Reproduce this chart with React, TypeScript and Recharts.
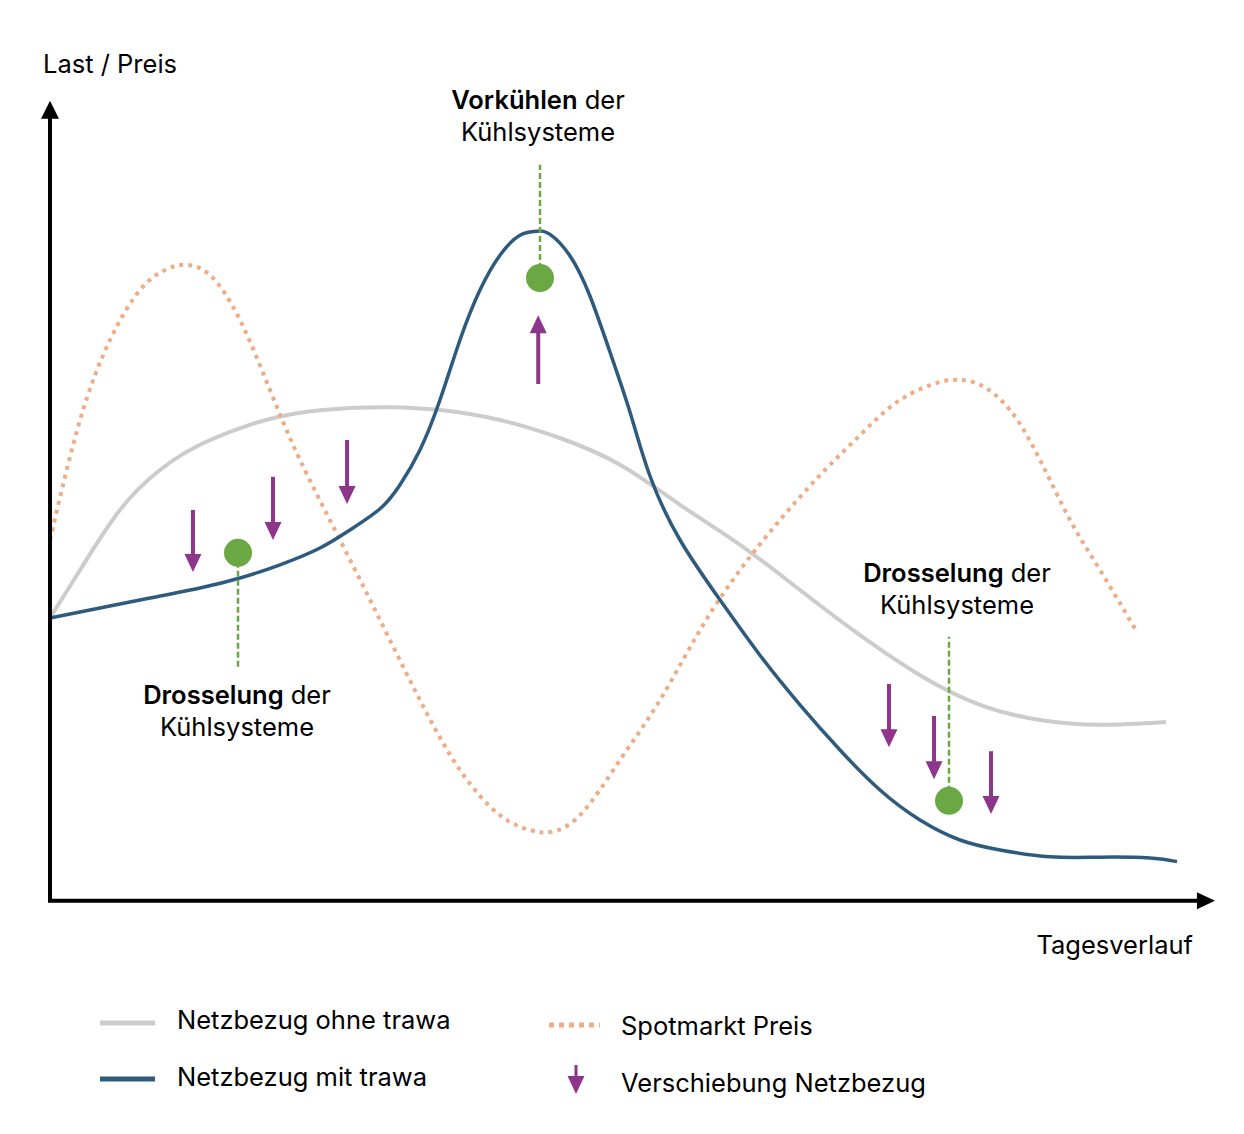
import React from "react";
import { LineChart, Line, XAxis, YAxis, ReferenceLine, ReferenceDot } from "recharts";

// x: Tagesverlauf (0-100), y: Last / Preis (0-100)
const ohneTrawa = [
  { t: 0.17, v: 35.25 }, { t: 2.74, v: 41.25 }, { t: 6.15, v: 48.75 }, { t: 9.57, v: 53.75 },
  { t: 12.99, v: 56.9 }, { t: 17.26, v: 59.4 }, { t: 21.54, v: 60.9 }, { t: 25.81, v: 61.5 },
  { t: 29.23, v: 61.6 }, { t: 33.5, v: 61.25 }, { t: 38.63, v: 60 }, { t: 43.76, v: 57.75 },
  { t: 48.89, v: 54.4 }, { t: 54.02, v: 49.4 }, { t: 59.15, v: 44.4 }, { t: 64.27, v: 38.75 },
  { t: 69.4, v: 33.1 }, { t: 74.53, v: 28.1 }, { t: 79.66, v: 24.4 }, { t: 84.79, v: 22.5 },
  { t: 89.91, v: 21.9 }, { t: 95.56, v: 22.25 },
];

const mitTrawa = [
  { t: 0.17, v: 35.25 }, { t: 4.44, v: 36.5 }, { t: 8.72, v: 37.75 }, { t: 12.99, v: 39 },
  { t: 16.41, v: 40.25 }, { t: 19.83, v: 41.9 }, { t: 23.25, v: 44 }, { t: 25.81, v: 46.25 },
  { t: 28.38, v: 48.9 }, { t: 30.09, v: 51.9 }, { t: 31.79, v: 56.25 }, { t: 33.5, v: 62.5 },
  { t: 35.21, v: 70 }, { t: 36.92, v: 76.25 }, { t: 38.63, v: 80.6 }, { t: 40.34, v: 83.1 },
  { t: 41.8, v: 83.6 }, { t: 42.91, v: 83.2 }, { t: 44.62, v: 80.5 }, { t: 46.32, v: 75.5 },
  { t: 48.03, v: 68.5 }, { t: 49.74, v: 61 }, { t: 51.45, v: 53 }, { t: 54.02, v: 45 },
  { t: 57.44, v: 37.5 }, { t: 60.85, v: 30.6 }, { t: 64.27, v: 24.4 }, { t: 67.69, v: 18.75 },
  { t: 71.11, v: 13.75 }, { t: 74.53, v: 10 }, { t: 77.95, v: 7.5 }, { t: 81.37, v: 6.25 },
  { t: 85.64, v: 5.4 }, { t: 89.91, v: 5.35 }, { t: 94.19, v: 5.25 }, { t: 96.5, v: 4.8 },
];

const spotPreis = [
  { t: 0.17, v: 45 }, { t: 2.74, v: 60 }, { t: 5.3, v: 70 }, { t: 7.86, v: 76.25 },
  { t: 10, v: 78.75 }, { t: 11.71, v: 79.4 }, { t: 13.85, v: 78.1 }, { t: 16.41, v: 72.5 },
  { t: 18.97, v: 63.75 }, { t: 21.54, v: 55 }, { t: 24.96, v: 45 }, { t: 28.38, v: 35 },
  { t: 31.79, v: 25 }, { t: 35.21, v: 16.25 }, { t: 38.63, v: 10.6 }, { t: 41.2, v: 8.75 },
  { t: 42.91, v: 8.5 }, { t: 45.47, v: 10.6 }, { t: 48.89, v: 17.5 }, { t: 52.31, v: 25 },
  { t: 55.73, v: 33.75 }, { t: 59.15, v: 41.25 }, { t: 62.56, v: 47.5 }, { t: 65.98, v: 53.1 },
  { t: 69.4, v: 58.1 }, { t: 72.82, v: 62.5 }, { t: 76.24, v: 64.75 }, { t: 77.95, v: 65 },
  { t: 79.66, v: 64.4 }, { t: 82.22, v: 61.25 }, { t: 84.79, v: 55 }, { t: 87.35, v: 47.5 },
  { t: 89.91, v: 41.25 }, { t: 92.91, v: 33.9 },
];

// Verschiebung Netzbezug: from (t, v0) to (t, v1)
const verschiebungen = [
  { t: 12.39, v0: 48.75, v1: 41 },
  { t: 19.23, v0: 52.9, v1: 45 },
  { t: 25.56, v0: 57.5, v1: 49.5 },
  { t: 41.9, v0: 64.5, v1: 73.1 },
  { t: 71.88, v0: 27, v1: 19.1 },
  { t: 75.73, v0: 23, v1: 15.1 },
  { t: 80.6, v0: 18.6, v1: 10.75 },
];

// Massnahmen: dot (t, v) and dashed leader to vEnd
const massnahmen = [
  { t: 16.24, v: 43.4, vEnd: 29 },
  { t: 42.05, v: 77.75, vEnd: 91.9 },
  { t: 77.01, v: 12.4, vEnd: 32.9 },
];

const GREY = "#cccccc";
const BLUE = "#2e5b7d";
const ORANGE = "#ebae88";
const PURPLE = "#8e368c";
const GREEN = "#6aa843";
const FONT = "Inter, 'Noto Sans', sans-serif";

const headShape = (up: boolean, color: string, w: number, h: number) => (props: any) => {
  const { cx, cy } = props;
  const b = up ? cy + h : cy - h;
  return <polygon points={`${cx - w / 2},${b} ${cx + w / 2},${b} ${cx},${cy}`} fill={color} />;
};

const headRight = (props: any) => {
  const { cx, cy } = props;
  return <polygon points={`${cx - 18},${cy - 8.5} ${cx - 18},${cy + 8.5} ${cx},${cy}`} fill="#000" />;
};

export default function App() {
  return (
    <div style={{ position: "absolute", left: 0, top: 0, width: 1244, height: 1134, background: "#fff" }}>
      <LineChart
        width={1244}
        height={1134}
        margin={{ top: 100, right: 26, bottom: 234, left: 48 }}
      >
        <XAxis type="number" dataKey="t" domain={[0, 100]} hide allowDataOverflow />
        <YAxis type="number" dataKey="v" domain={[0, 100]} hide allowDataOverflow />

        <Line data={ohneTrawa} dataKey="v" type="natural" stroke={GREY} strokeWidth={4} dot={false} isAnimationActive={false} />
        <Line data={spotPreis} dataKey="v" type="natural" stroke={ORANGE} strokeWidth={4} strokeDasharray="4 5" dot={false} isAnimationActive={false} />
        <Line data={mitTrawa} dataKey="v" type="natural" stroke={BLUE} strokeWidth={3.5} dot={false} isAnimationActive={false} />

        {/* axes with arrows */}
        <ReferenceLine segment={[{ x: 0.17, y: 0 }, { x: 0.17, y: 98 }]} stroke="#000" strokeWidth={4} ifOverflow="visible" />
        <ReferenceLine segment={[{ x: 0, y: -0.1 }, { x: 98.3, y: -0.1 }]} stroke="#000" strokeWidth={4} ifOverflow="visible" />
        <ReferenceDot x={0.17} y={99.9} r={1} ifOverflow="visible" shape={headShape(true, "#000", 18, 18)} />
        <ReferenceDot x={99.74} y={-0.1} r={1} ifOverflow="visible" shape={headRight} />

        {/* dashed leaders and dots */}
        {massnahmen.map((m, i) => (
          <ReferenceLine key={"l" + i} segment={[{ x: m.t, y: m.v }, { x: m.t, y: m.vEnd }]} stroke={GREEN} strokeWidth={2.5} strokeDasharray="6 3" ifOverflow="visible" />
        ))}
        {massnahmen.map((m, i) => (
          <ReferenceDot key={"d" + i} x={m.t} y={m.v} r={14} fill={GREEN} stroke="none" ifOverflow="visible" />
        ))}

        {/* shift arrows */}
        {verschiebungen.map((a, i) => {
          const up = a.v1 > a.v0;
          const shaftEnd = up ? a.v1 - 1.5 : a.v1 + 1.5;
          return (
            <ReferenceLine key={"s" + i} segment={[{ x: a.t, y: a.v0 }, { x: a.t, y: shaftEnd }]} stroke={PURPLE} strokeWidth={4} ifOverflow="visible" />
          );
        })}
        {verschiebungen.map((a, i) => (
          <ReferenceDot key={"h" + i} x={a.t} y={a.v1} r={1} ifOverflow="visible" shape={headShape(a.v1 > a.v0, PURPLE, 17, 18)} />
        ))}
      </LineChart>

      <svg width={1244} height={1134} style={{ position: "absolute", left: 0, top: 0, pointerEvents: "none" }} fontFamily={FONT} fontSize={25.5} fill="#000">
        <text x={43} y={73}>Last / Preis</text>
        <text x={1193} y={954} textAnchor="end">Tagesverlauf</text>

        <text x={538} y={109} textAnchor="middle"><tspan fontWeight={600}>Vorkühlen</tspan> der</text>
        <text x={538} y={141} textAnchor="middle">Kühlsysteme</text>

        <text x={237} y={704} textAnchor="middle"><tspan fontWeight={600}>Drosselung</tspan> der</text>
        <text x={237} y={736} textAnchor="middle">Kühlsysteme</text>

        <text x={957} y={582} textAnchor="middle"><tspan fontWeight={600}>Drosselung</tspan> der</text>
        <text x={957} y={614} textAnchor="middle">Kühlsysteme</text>

        {/* legend */}
        <line x1={100} x2={155} y1={1023} y2={1023} stroke={GREY} strokeWidth={5} />
        <text x={177} y={1029}>Netzbezug ohne trawa</text>
        <line x1={100} x2={155} y1={1079} y2={1079} stroke={BLUE} strokeWidth={5} />
        <text x={177} y={1086}>Netzbezug mit trawa</text>
        <line x1={549} x2={600} y1={1025} y2={1025} stroke={ORANGE} strokeWidth={5} strokeDasharray="5 5" />
        <text x={621} y={1035}>Spotmarkt Preis</text>
        <line x1={576} x2={576} y1={1065} y2={1080} stroke={PURPLE} strokeWidth={3} />
        <polygon points="567.5,1076 584.5,1076 576,1094" fill={PURPLE} />
        <text x={621} y={1092}>Verschiebung Netzbezug</text>
      </svg>
    </div>
  );
}
